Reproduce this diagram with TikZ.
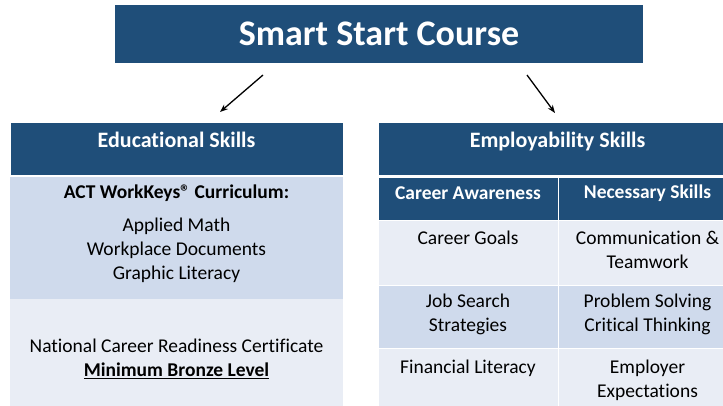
\documentclass[tikz,border=0pt]{standalone}
\usepackage{fontspec}
\setmainfont{Carlito}[Ligatures=NoCommon]
\usetikzlibrary{arrows.meta}
\usetikzlibrary{calc}

\definecolor{navy}{RGB}{31,78,121}
\definecolor{paleblue}{RGB}{207,218,236}
\definecolor{mistblue}{RGB}{233,237,245}

\tikzset{
  cellbox/.style={inner sep=0pt, outer sep=0pt, anchor=north west, draw=white, line width=0.8pt},
  headbox/.style={cellbox, fill=navy},
  bodytxt/.style={inner sep=0pt, align=center, font=\fontsize{19.5}{24}\selectfont},
  headtxt/.style={bodytxt, text=white, font=\fontsize{19.5}{24}\selectfont\bfseries},
}

\begin{document}
\begin{tikzpicture}[x=1pt,y=-1pt]
  \useasboundingbox (0,0) rectangle (723,406);

  % top box
  \node[fill=navy, inner sep=0pt, minimum width=528pt, minimum height=58pt,
        text=white, font=\fontsize{36}{40}\selectfont\bfseries] (course) at (379,34) {Smart Start Course};

  \coordinate (eduFrom) at (263,75);
  \coordinate (eduTo) at (220,112);
  \coordinate (empFrom) at (527,75);
  \coordinate (empTo) at (555,113);
  \draw[-{Stealth[length=8pt,width=6pt]}, line width=1.3pt] (eduFrom) -- (eduTo);
  \draw[-{Stealth[length=8pt,width=6pt]}, line width=1.3pt] (empFrom) -- (empTo);

  % educational skills
  \begin{scope}
    \node[headbox, minimum width=333pt, minimum height=53pt] (edu) at (10,122) {};
    \node[headtxt, font=\fontsize{22}{26}\selectfont\bfseries] (eduHead) at (176.5,140) {Educational Skills};
    \node[cellbox, fill=paleblue, draw=none, minimum width=333pt, minimum height=122pt] (curr) at (10,177) {};
    \node[cellbox, fill=mistblue, draw=none, minimum width=333pt, minimum height=112pt] (ncrc) at (10,299) {};
    \node[bodytxt, font=\fontsize{19.5}{24}\selectfont\bfseries] (currHead) at (176.5,193)
      {ACT WorkKeys® Curriculum:};
    \node[bodytxt] (currList) at (176.5,250) {Applied Math\\Workplace Documents\\Graphic Literacy};
    \node[bodytxt] (ncrcTxt) at (176.5,358.5)
      {National Career Readiness Certificate\\\textbf{\underline{Minimum Bronze Level}}};
  \end{scope}

  % employability skills
  \begin{scope}
    \node[headbox, minimum width=359pt, minimum height=53pt] (emp) at (378,122) {};
    \node[headtxt, font=\fontsize{22}{26}\selectfont\bfseries] (empHead) at (557.5,142) {Employability Skills};
    \node[headbox, minimum width=180pt, minimum height=43pt] (aware) at (378,177) {};
    \node[headbox, minimum width=179pt, minimum height=43pt] (needs) at (558,177) {};
    \node[headtxt] (awareTxt) at (468,193) {Career Awareness};
    \node[headtxt] (needsTxt) at (647.5,193) {Necessary Skills};
    \foreach \top/\ht/\c [count=\i] in {220/65/mistblue,285/63/paleblue,348/62/mistblue} {
        \node[cellbox, fill=\c, minimum width=180pt, minimum height=\ht pt] (a\i) at (378,\top) {};
        \node[cellbox, fill=\c, minimum width=179pt, minimum height=\ht pt] (b\i) at (558,\top) {};
      }
    \foreach \ya/\yb/\ta/\tb [count=\i] in {238/250/{Career Goals}/{Communication \&\\Teamwork},
        314.5/314.5/{Job Search\\Strategies}/{Problem Solving\\Critical Thinking},
        368/380/{Financial Literacy}/{Employer\\Expectations}} {
        \node[bodytxt] (ta\i) at (468,\ya) {\ta};
        \node[bodytxt] (tb\i) at (647.5,\yb) {\tb};
      }
  \end{scope}
\end{tikzpicture}
\end{document}
